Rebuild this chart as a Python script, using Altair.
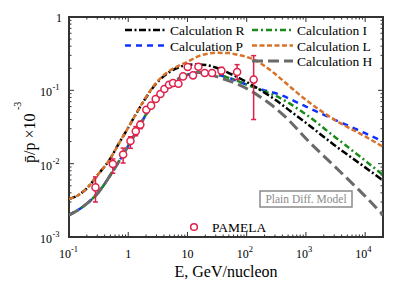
import altair as alt
import pandas as pd

FONT = "Liberation Serif"
W, H = 314, 220

# ---------------- data ----------------
low_E = [0.1, 0.15, 0.2, 0.3, 0.4, 0.5, 0.7, 1, 1.5, 2, 3, 5, 7, 10, 15, 20]
low_V = [2.0e-3, 2.4e-3, 2.85e-3, 3.9e-3, 5.3e-3, 7.0e-3, 1.08e-2, 0.0175, 0.031, 0.047,
         0.076, 0.118, 0.143, 0.163, 0.175, 0.173]

H_E = low_E + [30, 50, 100, 200, 300, 500, 1000, 3000, 1e4, 2e4]
H_V = low_V + [0.155, 0.135, 0.106, 0.074, 0.058, 0.040, 0.022, 0.0093, 0.0036, 0.002]

P_E = low_E + [30, 50, 100, 200, 300, 1000, 3000, 1e4, 2e4]
P_V = low_V + [0.165, 0.148, 0.12, 0.1, 0.092, 0.06, 0.040, 0.026, 0.020]

I_E = low_E + [30, 50, 100, 200, 300, 1000, 3000, 1e4, 2e4]
I_V = low_V + [0.165, 0.148, 0.12, 0.097, 0.085, 0.047, 0.0235, 0.011, 0.007]

R_E = [0.1, 0.15, 0.2, 0.3, 0.5, 0.7, 1, 1.5, 2, 3, 5, 7, 10, 15, 20, 30, 50, 100, 200,
       300, 500, 1000, 3000, 1e4, 2e4]
R_V = [3.3e-3, 3.8e-3, 4.6e-3, 6.9e-3, 0.0118, 0.019, 0.031, 0.055, 0.08, 0.125, 0.178,
       0.205, 0.222, 0.226, 0.222, 0.205, 0.172, 0.13, 0.093, 0.075, 0.055, 0.036, 0.018,
       0.0089, 0.0059]

L_E = [0.1, 0.15, 0.2, 0.3, 0.5, 0.7, 1, 1.5, 2, 3, 5, 7, 10, 15, 20, 30, 50, 70, 100,
       150, 200, 300, 500, 1000, 3000, 1e4, 2e4]
L_V = [3.3e-3, 3.8e-3, 4.6e-3, 6.9e-3, 0.0118, 0.019, 0.031, 0.055, 0.081, 0.128, 0.185,
       0.215, 0.245, 0.29, 0.31, 0.325, 0.322, 0.305, 0.285, 0.25, 0.215, 0.168, 0.118,
       0.074, 0.04, 0.0235, 0.017]

pam_E = [0.28, 0.55, 0.82, 1.09, 1.34, 1.6, 2.02, 2.43, 2.91, 3.49, 4.08, 4.89, 5.71, 7.03,
         8.43, 10.1, 12.4, 15.3, 19.6, 26, 37.4, 68.9, 131]
pam_V = [4.75e-3, 9.9e-3, 1.33e-2, 0.0204, 0.0276, 0.034, 0.0545, 0.0618, 0.0762, 0.089,
         0.104, 0.119, 0.126, 0.123, 0.155, 0.208, 0.16, 0.21, 0.172, 0.172, 0.185, 0.178, 0.14]
pam_lo = [3.0e-3, 7.4e-3, 1.02e-2, 0.0162, 0.024, 0.030, 0.05, 0.057, 0.071, 0.083, 0.097,
          0.111, 0.118, 0.115, 0.145, 0.195, 0.15, 0.196, 0.16, 0.158, 0.165, 0.14, 0.04]
pam_hi = [6.6e-3, 1.16e-2, 1.63e-2, 0.0233, 0.032, 0.038, 0.059, 0.067, 0.082, 0.095, 0.111,
          0.127, 0.134, 0.131, 0.165, 0.221, 0.17, 0.224, 0.184, 0.186, 0.205, 0.224, 0.297]

# drawing order (last on top)
series_names = ["Calculation P", "Calculation I", "Calculation H", "Calculation R", "Calculation L"]
series_data = {"Calculation H": (H_E, H_V), "Calculation I": (I_E, I_V),
               "Calculation P": (P_E, P_V), "Calculation R": (R_E, R_V),
               "Calculation L": (L_E, L_V)}
colors = {"Calculation R": "#000000", "Calculation P": "#1030ff", "Calculation I": "#1a8a1a",
          "Calculation L": "#d8732a", "Calculation H": "#6a6a6a"}
dashes = {"Calculation R": [7, 2.5, 2, 2.5], "Calculation P": [6, 5],
          "Calculation I": [6, 3, 2, 3], "Calculation L": [5, 2.5], "Calculation H": [11, 5]}
widths = {"Calculation R": 2.5, "Calculation P": 2.5, "Calculation I": 2.5,
          "Calculation L": 2.5, "Calculation H": 3}

legend_pos = {"Calculation R": (0, 0), "Calculation P": (0, 1), "Calculation I": (1, 0),
              "Calculation L": (1, 1), "Calculation H": (1, 2)}

x_major = [0.1, 1, 10, 100, 1000, 10000]
x_minor = [k * 10 ** d for d in range(-1, 5) for k in range(2, 10) if k * 10 ** d <= 20000]
y_major = [0.001, 0.01, 0.1, 1]
y_minor = [k * 10 ** d for d in range(-3, 0) for k in range(2, 10)]

x_lab_sup = pd.DataFrame({"E": [0.1, 100, 1000, 10000], "base": ["10"] * 4,
                          "sup": ["-1", "2", "3", "4"]})
x_lab_plain = pd.DataFrame({"E": [1, 10], "base": ["1", "10"]})
y_lab_sup = pd.DataFrame({"V": [0.001, 0.01, 0.1], "base": ["10"] * 3,
                          "sup": ["-3", "-2", "-1"]})
y_lab_plain = pd.DataFrame({"V": [1], "base": ["1"]})

# ---------------- chart ----------------
xs = alt.Scale(type="log", domain=[0.1, 20000], nice=False)
ys = alt.Scale(type="log", domain=[0.001, 1], nice=False)
X = lambda f: alt.X(f, type="quantitative", scale=xs, axis=None)
Y = lambda f: alt.Y(f, type="quantitative", scale=ys, axis=None)
one = pd.DataFrame({"a": [0]})

layers = []

def tick_layers(vals, ln):
    d = pd.DataFrame({"v": vals})
    return [
        alt.Chart(d).mark_rule(color="#333", strokeWidth=1).encode(
            x=X("v"), y=alt.value(H), y2=alt.value(H - ln)),
        alt.Chart(d).mark_rule(color="#333", strokeWidth=1).encode(
            x=X("v"), y=alt.value(0), y2=alt.value(ln)),
    ]

def ytick_layers(vals, ln):
    d = pd.DataFrame({"v": vals})
    return [
        alt.Chart(d).mark_rule(color="#333", strokeWidth=1).encode(
            y=Y("v"), x=alt.value(0), x2=alt.value(ln)),
        alt.Chart(d).mark_rule(color="#333", strokeWidth=1).encode(
            y=Y("v"), x=alt.value(W), x2=alt.value(W - ln)),
    ]

layers += tick_layers(x_major, 5) + tick_layers(x_minor, 2.5)
layers += ytick_layers(y_major, 5) + ytick_layers(y_minor, 2.5)

for name in series_names:
    e, v = series_data[name]
    df = pd.DataFrame({"E": e, "V": v})
    layers.append(
        alt.Chart(df).mark_line(color=colors[name], strokeDash=dashes[name],
                                strokeWidth=widths[name], interpolate="monotone",
                                clip=True).encode(x=X("E"), y=Y("V"))
    )

pam = pd.DataFrame({"E": pam_E, "V": pam_V, "lo": pam_lo, "hi": pam_hi})
RED = "#e0204a"
layers.append(alt.Chart(pam).mark_rule(color=RED, strokeWidth=1.5).encode(
    x=X("E"), y=Y("lo"), y2="hi"))
layers.append(alt.Chart(pam).mark_rule(color=RED, strokeWidth=1.5, xOffset=-2.5, x2Offset=2.5).encode(
    x=X("E"), x2="E", y=Y("lo")))
layers.append(alt.Chart(pam).mark_rule(color=RED, strokeWidth=1.5, xOffset=-2.5, x2Offset=2.5).encode(
    x=X("E"), x2="E", y=Y("hi")))
layers.append(alt.Chart(pam).mark_point(shape="circle", filled=True, fill="white", stroke=RED,
                                         strokeWidth=1.5, size=50, opacity=1).encode(
    x=X("E"), y=Y("V")))

for name in ["Calculation R", "Calculation P", "Calculation I", "Calculation L", "Calculation H"]:
    col, row = legend_pos[name]
    x0 = 56 if col == 0 else 183
    yy = 13 + row * 15.5
    layers.append(alt.Chart(one).mark_rule(color=colors[name], strokeDash=dashes[name],
                                            strokeWidth=widths[name]).encode(
        x=alt.value(x0), x2=alt.value(x0 + 41), y=alt.value(yy)))
    layers.append(alt.Chart(one).mark_text(text=name, align="left", baseline="middle",
                                            font=FONT, fontSize=13.5, color="black").encode(
        x=alt.value(x0 + 45), y=alt.value(yy + 1)))

layers.append(alt.Chart(one).mark_point(shape="circle", filled=True, fill="white", stroke=RED,
                                         strokeWidth=1.5, size=45, opacity=1).encode(
    x=alt.value(125), y=alt.value(210)))
layers.append(alt.Chart(one).mark_text(text="PAMELA", align="left", baseline="middle",
                                        font=FONT, fontSize=13.5, color="black").encode(
    x=alt.value(143), y=alt.value(211)))

layers.append(alt.Chart(one).mark_rect(fill="white", stroke="#8a8a8a", strokeWidth=1.5).encode(
    x=alt.value(191), x2=alt.value(283), y=alt.value(174), y2=alt.value(190)))
layers.append(alt.Chart(one).mark_text(text="Plain Diff. Model", align="center", baseline="middle",
                                        font=FONT, fontSize=11.5, color="#8a8a8a").encode(
    x=alt.value(237), y=alt.value(182.5)))

layers.append(alt.Chart(x_lab_sup).mark_text(align="right", baseline="alphabetic", dx=2,
                                             font=FONT, fontSize=12, color="black").encode(
    x=X("E"), y=alt.value(241), text="base:N"))
layers.append(alt.Chart(x_lab_sup).mark_text(align="left", baseline="alphabetic", dx=2,
                                             font=FONT, fontSize=8.5, color="black").encode(
    x=X("E"), y=alt.value(235), text="sup:N"))
layers.append(alt.Chart(x_lab_plain).mark_text(align="center", baseline="alphabetic",
                                               font=FONT, fontSize=12, color="black").encode(
    x=X("E"), y=alt.value(241), text="base:N"))
layers.append(alt.Chart(y_lab_sup).mark_text(align="right", baseline="middle", dy=2,
                                             font=FONT, fontSize=12, color="black").encode(
    y=Y("V"), x=alt.value(-17), text="base:N"))
layers.append(alt.Chart(y_lab_sup).mark_text(align="left", baseline="middle", dy=-3,
                                             font=FONT, fontSize=8.5, color="black").encode(
    y=Y("V"), x=alt.value(-16.5), text="sup:N"))
layers.append(alt.Chart(y_lab_plain).mark_text(align="right", baseline="middle", dy=1,
                                               font=FONT, fontSize=12, color="black").encode(
    y=Y("V"), x=alt.value(-7), text="base:N"))

layers.append(alt.Chart(one).mark_text(text="E, GeV/nucleon", align="center", baseline="alphabetic",
                                        font=FONT, fontSize=16, color="black").encode(
    x=alt.value(W / 2), y=alt.value(260)))
layers.append(alt.Chart(one).mark_text(text="p\u0304/p \u00d710", align="left", baseline="middle",
                                        angle=270, font=FONT, fontSize=16, color="black").encode(
    x=alt.value(-39), y=alt.value(146)))
layers.append(alt.Chart(one).mark_text(text="-3", align="left", baseline="middle",
                                        angle=270, font=FONT, fontSize=10, color="black").encode(
    x=alt.value(-51), y=alt.value(93)))

chart = alt.layer(*layers).properties(
    width=W, height=H,
    autosize=alt.AutoSizeParams(type="none"),
    padding={"left": 61, "top": 9, "right": 16, "bottom": 50},
).configure_view(stroke="#333", strokeWidth=2).configure_text(font=FONT)

chart.save("out.html", embed_options={"renderer": "svg", "actions": False})
